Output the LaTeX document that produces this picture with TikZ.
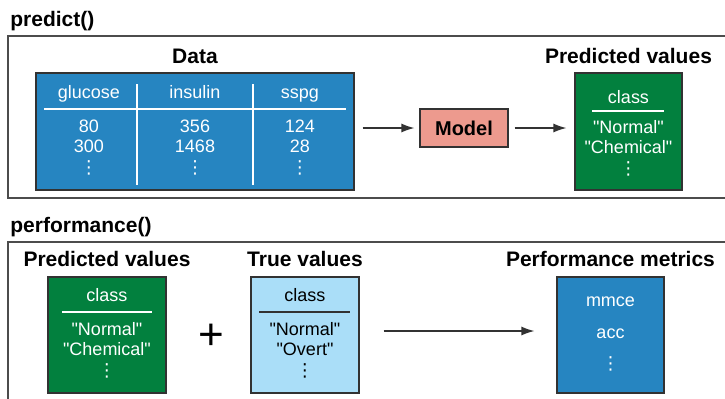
\documentclass[tikz,border=0pt]{standalone}
\usepackage{fontspec}
\setmainfont{Liberation Sans}[Ligatures=TeXOff]
\newfontfamily\symfont{DejaVu Sans}
\usetikzlibrary{arrows.meta,positioning}
\definecolor{datablue}{RGB}{38,133,193}
\definecolor{predgreen}{RGB}{2,128,62}
\definecolor{modelred}{RGB}{237,154,142}
\definecolor{truecyan}{RGB}{170,222,248}
\definecolor{edge}{RGB}{50,50,50}
\newcommand{\vdts}{{\symfont ⋮}}
\newcommand{\qt}[1]{"#1"}
\tikzset{panel/.style={draw=black!70, line width=0.65pt},
  ttl/.style={font=\fontsize{10.5}{12}\selectfont\bfseries, inner sep=0pt},
  lbl/.style={font=\fontsize{9}{10}\selectfont, align=center, inner sep=0pt},
  box/.style={draw=edge, line width=0.6pt, minimum width=#1, minimum height=58.5pt, inner sep=0pt},
  flow/.style={-{Latex[length=6.5pt,width=4.5pt]}, line width=0.6pt, draw=edge}}

\begin{document}
\begin{tikzpicture}[x=0.5pt, y=-0.5pt]
\path[use as bounding box, clip] (0,0) rectangle (725,398);

 % predict()
 \node[ttl, anchor=base west] (predict) at (10,26) {predict()};
 \draw[panel] (8,36) rectangle (740,198);

 \node[box=159pt, fill=datablue] (data) at (195,131.5) {};
 \node[ttl] (datat) [above=4pt of data] {Data};
 \begin{scope}[every node/.style={lbl, text=white}]
   \node[anchor=base] (c1) at (89,98) {glucose};
   \node[anchor=base] (c2) at (195,98) {insulin};
   \node[anchor=base] (c3) at (300,98) {sspg};
   \node[anchor=north] (v1) at (89,120) {80\\300\\[0.5pt]\vdts};
   \node[anchor=north] (v2) at (195,120) {356\\1468\\[0.5pt]\vdts};
   \node[anchor=north] (v3) at (300,120) {124\\28\\[0.5pt]\vdts};
 \end{scope}
 \draw[white, line width=0.7pt] (44,109) -- (346,109);
 \draw[white, line width=0.7pt] (137,84) -- (137,185);
 \draw[white, line width=0.7pt] (253,84) -- (253,185);

 \node[box=44pt, minimum height=19pt, fill=modelred, font=\fontsize{10}{12}\selectfont\bfseries] (model) at (464,128) {Model};

 \node[box=53.5pt, fill=predgreen] (preda) at (628.5,131.5) {};
 \node[ttl] (predat) [above=4pt of preda] {Predicted values};
 \node[lbl, text=white, anchor=base] (pacls) at (628.5,103) {class};
 \draw[white, line width=0.7pt] (592,111) -- (664,111);
 \node[lbl, text=white, anchor=north] (paval) at (628.5,120.5) {\qt{Normal}\\\qt{Chemical}\\[0.5pt]\vdts};

 \draw[flow, shorten <=4pt, shorten >=2.5pt] (data.east |- model.west) -- (model.west);
 \draw[flow, shorten <=3pt, shorten >=4pt] (model.east) -- (preda.west |- model.east);

 % performance()
 \node[ttl, anchor=base west] (perform) at (10,232) {performance()};
 \draw[panel] (8,242) rectangle (740,410);

 \node[box=59pt, minimum height=58pt, fill=predgreen] (predb) at (107,335) {};
 \node[ttl] (predbt) [above=4.5pt of predb] {Predicted values};
 \node[lbl, text=white, anchor=base] (pbcls) at (107,301) {class};
 \draw[white, line width=0.7pt] (62,312) -- (152,312);
 \node[lbl, text=white, anchor=north] (pbval) at (107,322.5) {\qt{Normal}\\\qt{Chemical}\\[0.5pt]\vdts};

 \node[font=\fontsize{22}{22}\selectfont, inner sep=0pt] (plus) at (211,337) {+};

 \node[box=54pt, minimum height=58pt, fill=truecyan] (trueb) at (305,335) {};
 \node[ttl] (truebt) [above=4.5pt of trueb] {True values};
 \node[lbl, anchor=base] (tbcls) at (305,301) {class};
 \draw[edge, line width=0.7pt] (259,312) -- (350,312);
 \node[lbl, anchor=north] (tbval) at (305,322.5) {\qt{Normal}\\\qt{Overt}\\[0.5pt]\vdts};

 \node[box=53.5pt, minimum height=58pt, fill=datablue] (perfb) at (610.5,335) {};
 \node[ttl] (perfbt) [above=4.5pt of perfb] {Performance metrics};
 \begin{scope}[every node/.style={lbl, text=white, anchor=base}]
   \node (m1) at (610.5,306) {mmce};
   \node (m2) at (610.5,338) {acc};
   \node (m3) at (610.5,369) {\vdts};
 \end{scope}

 \draw[flow, shorten <=12pt, shorten >=11pt] ([yshift=2pt]trueb.east) -- ([yshift=2pt]perfb.west);
\end{tikzpicture}
\end{document}
